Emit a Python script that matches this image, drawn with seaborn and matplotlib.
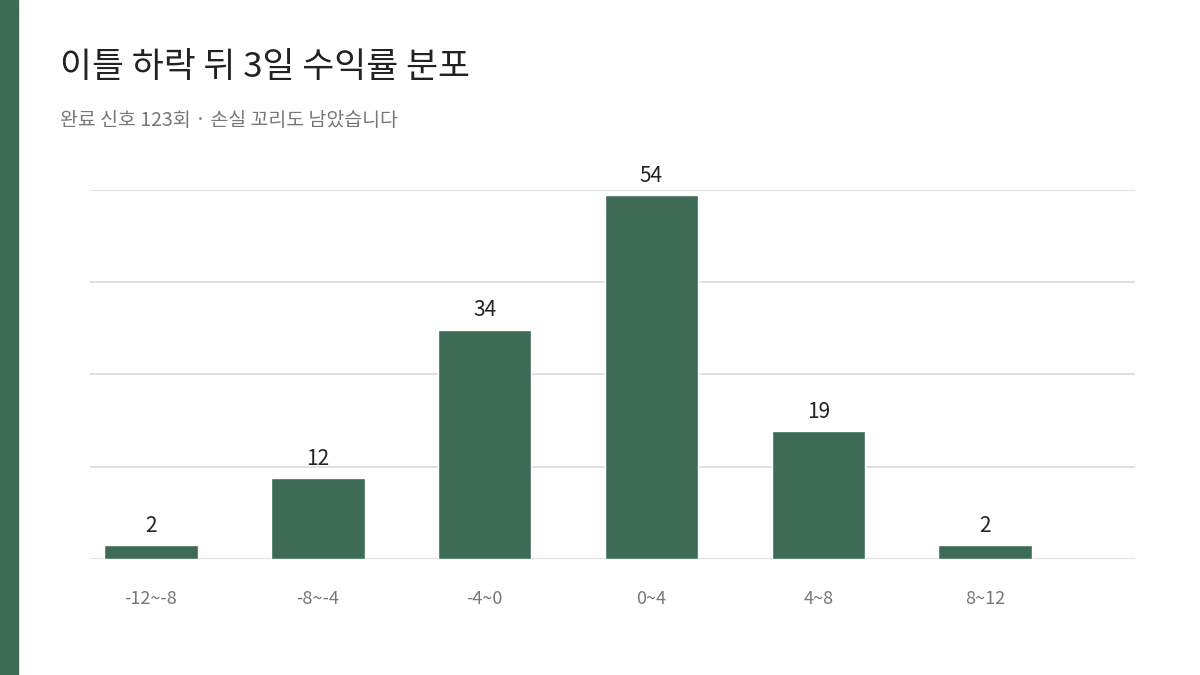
import numpy as np
import pandas as pd
import seaborn as sns
import matplotlib.pyplot as plt
from matplotlib.patches import Rectangle

bins = ["-12~-8", "-8~-4", "-4~0", "0~4", "4~8", "8~12"]
counts = [2, 12, 34, 54, 19, 2]

df = pd.DataFrame({"bin": bins, "count": counts})

sns.set_style("white")
plt.rcParams['font.family'] = ['Noto Sans CJK KR', 'DejaVu Sans']

green = "#3e6b55"
fig = plt.figure(figsize=(12, 6.75), dpi=100)
ax = fig.add_axes([0.075, 0.1719, 0.871, 0.5467])

sns.barplot(df, x="bin", y="count", color=green, width=0.56, saturation=1, ax=ax)
for i, v in enumerate(counts):
    ax.text(i, v + 1.2, str(v), ha="center", va="bottom", fontsize=15, color="#222222")

top = 54.7
ax.set_ylim(0, top)
ax.set_xlim(-0.366, 5.9)
ax.set_yticks(np.linspace(0, top, 5))
ax.yaxis.grid(True, color="#dcdcd6", linewidth=1.2)
ax.set_axisbelow(True)
ax.set_yticklabels([])
ax.tick_params(axis="y", length=0)
ax.tick_params(axis="x", length=0, labelsize=13, labelcolor="#777777", pad=22)
ax.set_xlabel("")
ax.set_ylabel("")
for s in ax.spines.values():
    s.set_visible(False)

fig.patches.append(Rectangle((0, 0), 18 / 1200, 1, transform=fig.transFigure, color=green))
fig.text(60 / 1200, 1 - 68 / 675, "이틀 하락 뒤 3일 수익률 분포", fontsize=25, color="#222222", va="center")
fig.text(60 / 1200, 1 - 120 / 675, "완료 신호 123회 · 손실 꼬리도 남았습니다", fontsize=14, color="#777777", va="center")

fig.savefig("out.png", dpi=100)
